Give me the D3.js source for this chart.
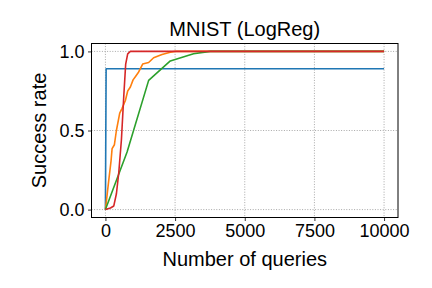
<html>
	<script src='https://cdn.jsdelivr.net/npm/d3@7'></script>
	<style>
		body {margin: 0; background: white;}
		text {font-family: 'Liberation Sans', Arial, sans-serif; fill: black;}
	</style>
	<body onload='init()'>
		<svg width=432 height=288>
		</svg>
		<script>
// queries -> success rate
var blueX = [0, 25, 10000];
var blueY = [0, 0.89, 0.89];
var orangeX = [0, 119, 203, 239, 322, 394, 513, 597, 716, 799, 895, 992, 1074, 1193, 1336, 1551, 1730, 2030, 2328, 2507, 10000];
var orangeY = [0, 0.185, 0.31, 0.385, 0.41, 0.50, 0.61, 0.64, 0.69, 0.75, 0.775, 0.82, 0.84, 0.87, 0.92, 0.93, 0.96, 0.98, 0.995, 1.0, 1.0];
var greenX = [0, 777, 1551, 2328, 3163, 3760, 10000];
var greenY = [0, 0.364, 0.817, 0.94, 0.985, 1.0, 1.0];
var redX = [0, 180, 300, 394, 477, 573, 656, 727, 799, 895, 10000];
var redY = [0, 0.01, 0.023, 0.10, 0.23, 0.44, 0.71, 0.92, 0.985, 1.0, 1.0];

var xticks = [0, 2500, 5000, 7500, 10000];
var yticks = [0, 0.5, 1.0];
var title = 'MNIST (LogReg)';
var xlabel = 'Number of queries';
var ylabel = 'Success rate';

function init() {
leftmargin = 91.5;
rightmargin = 34;
topmargin = 43.5;
bottommargin = 70.5;
w = 432 - leftmargin - rightmargin;
h = 288 - topmargin - bottommargin;

var svg = d3.select('svg');

var x = d3.scaleLinear().domain([-500, 10500]).range([0, w]);
var y = d3.scaleLinear().domain([-0.05, 1.05]).range([h, 0]);

var g = svg.append('g')
	.attr('transform', 'translate(' + leftmargin + ',' + topmargin + ')');

// grid
g.append('g').selectAll('line').data(xticks).enter().append('line')
	.attr('x1', d => x(d)).attr('x2', d => x(d))
	.attr('y1', 0).attr('y2', h)
	.attr('stroke', '#a8a8a8').attr('stroke-width', 1)
	.attr('stroke-dasharray', '1,1.6');
g.append('g').selectAll('line').data(yticks).enter().append('line')
	.attr('y1', d => y(d)).attr('y2', d => y(d))
	.attr('x1', 0).attr('x2', w)
	.attr('stroke', '#a8a8a8').attr('stroke-width', 1)
	.attr('stroke-dasharray', '1,1.6');

// lines
svg.append('clipPath').attr('id', 'clip')
	.append('rect').attr('width', w).attr('height', h);

var series = [
	{xs: blueX, ys: blueY, color: '#1f77b4'},
	{xs: orangeX, ys: orangeY, color: '#ff7f0e'},
	{xs: greenX, ys: greenY, color: '#2ca02c'},
	{xs: redX, ys: redY, color: '#d62728'}
];
var line = d3.line().x(d => x(d[0])).y(d => y(d[1]));
series.forEach(function(s) {
	var pts = s.xs.map((v, i) => [v, s.ys[i]]);
	g.append('path')
		.attr('d', line(pts))
		.attr('clip-path', 'url(#clip)')
		.attr('fill', 'none')
		.attr('stroke', s.color)
		.attr('stroke-width', 1.6)
		.attr('stroke-linejoin', 'round');
});

// axes
var xAxis = g.append('g')
	.attr('transform', 'translate(0,' + h + ')')
	.call(d3.axisBottom(x).tickValues(xticks).tickFormat(d3.format('d')).tickSize(3.5).tickPadding(3.5));
var yAxis = g.append('g')
	.call(d3.axisLeft(y).tickValues(yticks).tickFormat(d3.format('.1f')).tickSize(3.5).tickPadding(3.5));
[xAxis, yAxis].forEach(function(a) {
	a.select('.domain').remove();
	a.selectAll('line').attr('stroke', 'black').attr('stroke-width', 0.8);
	a.selectAll('text').attr('font-size', 18).attr('font-family', "'Liberation Sans', Arial, sans-serif");
});

g.append('rect')
	.attr('width', w).attr('height', h)
	.attr('fill', 'none').attr('stroke', 'black').attr('stroke-width', 1);

// labels
svg.append('text')
	.attr('x', leftmargin + w / 2).attr('y', 36)
	.attr('text-anchor', 'middle').attr('font-size', 20)
	.text(title);
svg.append('text')
	.attr('x', leftmargin + w / 2).attr('y', 266)
	.attr('text-anchor', 'middle').attr('font-size', 20)
	.text(xlabel);
svg.append('text')
	.attr('transform', 'translate(46,' + (topmargin + h / 2) + ')rotate(-90)')
	.attr('text-anchor', 'middle').attr('font-size', 20)
	.text(ylabel);
}
		</script>
	</body>
</html>
